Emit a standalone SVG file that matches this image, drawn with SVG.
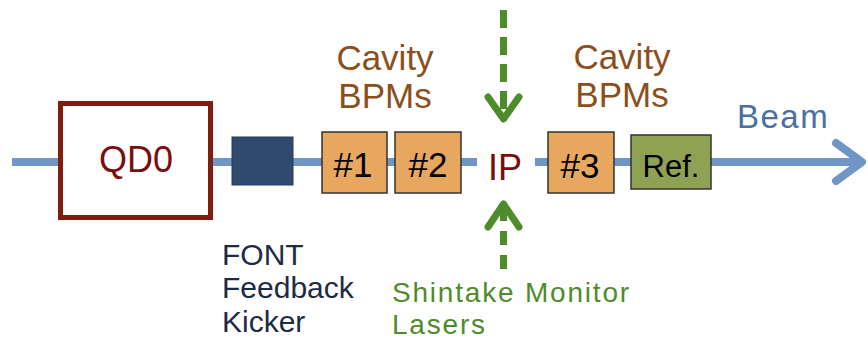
<svg xmlns="http://www.w3.org/2000/svg" width="868" height="341" viewBox="0 0 868 341">
<defs>
<style>
text{font-family:"Liberation Sans",Arial,sans-serif}
.beam{stroke:#7096C8;stroke-width:8;fill:none}
.bpm{fill:#E8A75E;stroke:#333;stroke-width:1.5}
.lbl{font-size:35px;fill:#000;text-anchor:middle}
.cav{font-size:35px;fill:#8B4F1C;text-anchor:middle}
.laser{stroke:#4E8B2A;stroke-width:7;fill:none}
.font{font-size:30px;fill:#1E2B45}
.green{font-size:28px;fill:#4E8B2A;letter-spacing:1.8px}
</style>
</defs>
<g id="connectors">
<line class="beam" x1="12" y1="162" x2="477" y2="162"/>
<line class="beam" x1="535" y1="162" x2="862" y2="162"/>
<polyline class="beam" points="836,143 862,162 836,181" stroke-linecap="round" stroke-linejoin="round"/>
<line class="laser" x1="503.5" y1="10" x2="503.5" y2="118" stroke-dasharray="18,9"/>
<polyline class="laser" points="488,97 503.5,119 519,97" stroke-linecap="round" stroke-linejoin="round"/>
<line class="laser" x1="503.5" y1="269" x2="503.5" y2="205" stroke-dasharray="14,10"/>
<polyline class="laser" points="488,227 503.5,204 519,227" stroke-linecap="round" stroke-linejoin="round"/>
</g>
<g id="qd0">
<rect x="60.5" y="103.5" width="150" height="114" fill="#fff" stroke="#7F1D0E" stroke-width="5"/>
<text x="136" y="172" font-size="36" fill="#7A0E0E" text-anchor="middle">QD0</text>
</g>
<g id="kicker">
<rect x="232" y="137" width="61" height="48" fill="#2F4A6D" stroke="#263D5B" stroke-width="1"/>
<text class="font" x="222" y="265">FONT</text>
<text class="font" x="222" y="298">Feedback</text>
<text class="font" x="222" y="332">Kicker</text>
</g>
<g id="bpms-left">
<text class="cav" x="385" y="70">Cavity</text>
<text class="cav" x="385" y="108">BPMs</text>
</g>
<g id="bpm1">
<rect class="bpm" x="322" y="132" width="65" height="61"/>
<text class="lbl" x="353" y="177">#1</text>
</g>
<g id="bpm2">
<rect class="bpm" x="395" y="132" width="66" height="61"/>
<text class="lbl" x="428" y="177">#2</text>
</g>
<g id="ip">
<text x="505" y="180" font-size="36" fill="#7A0E0E" text-anchor="middle">IP</text>
</g>
<g id="lasers">
<text class="green" x="392" y="302">Shintake Monitor</text>
<text class="green" x="392" y="334">Lasers</text>
</g>
<g id="bpms-right">
<text class="cav" x="622" y="69">Cavity</text>
<text class="cav" x="622" y="107">BPMs</text>
</g>
<g id="bpm3">
<rect class="bpm" x="548" y="132" width="66" height="61"/>
<text class="lbl" x="580" y="178">#3</text>
</g>
<g id="ref">
<rect x="631" y="135" width="80" height="54" fill="#8FA152" stroke="#333" stroke-width="1.5"/>
<text x="671" y="177" font-size="31" fill="#000" text-anchor="middle">Ref.</text>
</g>
<g id="beam-label">
<text x="737" y="128" font-size="33" fill="#4A6FA5" letter-spacing="1.5">Beam</text>
</g>
</svg>
